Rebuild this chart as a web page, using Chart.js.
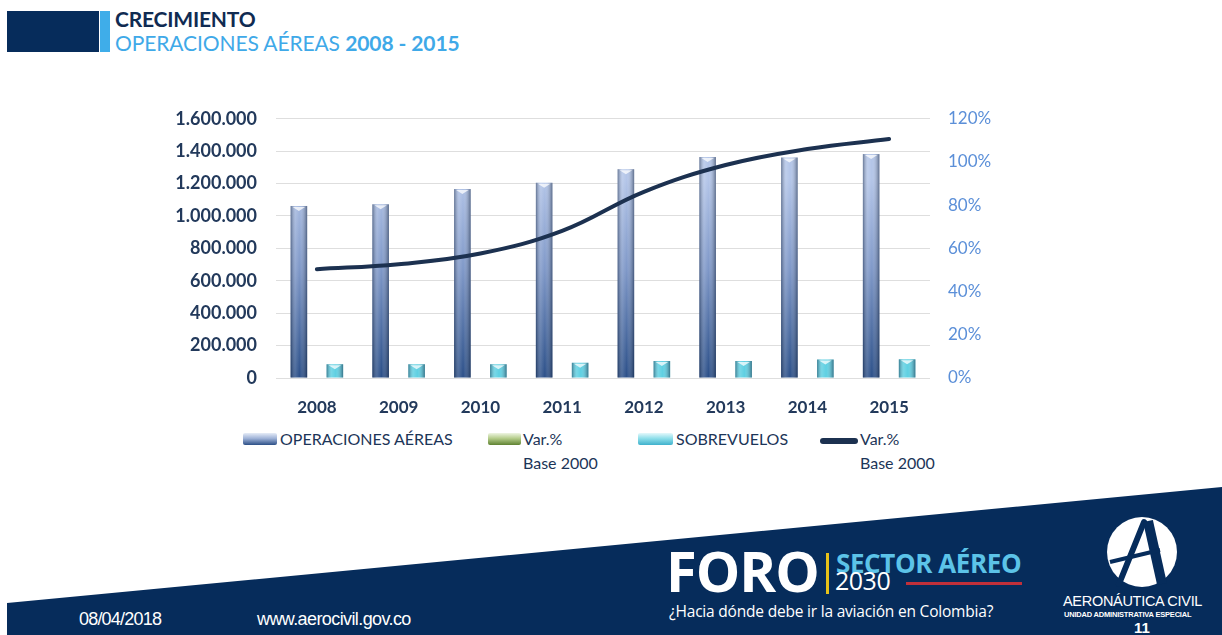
<!DOCTYPE html>
<html>
<head>
<meta charset="utf-8">
<script src="https://cdn.jsdelivr.net/npm/chart.js@4.4.1/dist/chart.umd.min.js"></script>
<style>
  body { margin: 0; width: 1222px; height: 635px; background: #fff; position: relative; overflow: hidden; font-family: Lato, "Open Sans", sans-serif; }
  .abs { position: absolute; }
  #head1 { left: 115px; top: 6px; font: bold 21px Lato; color: #102b52; letter-spacing: -0.2px; }
  #head2 { left: 115px; top: 30px; font: 21px Lato; color: #3fa9e8; letter-spacing: -0.1px; }
  #head2 b { font-weight: bold; }
  #wrap { left: 150px; top: 89px; width: 880px; height: 337px; }
  .leg { font: 16px Lato; color: #1c3558; line-height: 24px; white-space: nowrap; }
  .box { position: absolute; height: 12px; border-radius: 2px; }
  .footer { font-family: "Liberation Sans", Arial, sans-serif; color: #fff; }
</style>
</head>
<body>
<svg class="abs" style="left:0;top:0" width="1222" height="635">
  <rect x="7" y="11" width="92" height="41" fill="#062c5b"/>
  <rect x="100" y="11" width="10" height="41" fill="#3fade9"/>
  <polygon points="7,603 1222,487 1222,635 7,635" fill="#062c5b"/>
  <rect x="826" y="553" width="3" height="41" fill="#e7c21a"/>
  <rect x="906" y="582" width="116" height="3" fill="#c0303a"/>
  <circle cx="1142" cy="552" r="35" fill="#fff"/>
  <line x1="1144" y1="522" x2="1119" y2="584" stroke="#062c5b" stroke-width="6" stroke-linecap="round"/>
  <line x1="1148" y1="521" x2="1162" y2="584" stroke="#062c5b" stroke-width="10" stroke-linecap="butt"/>
  <line x1="1110" y1="562" x2="1160" y2="550" stroke="#062c5b" stroke-width="4"/>
</svg>

<div id="head1" class="abs">CRECIMIENTO</div>
<div id="head2" class="abs">OPERACIONES AÉREAS <b>2008 - 2015</b></div>

<div id="wrap" class="abs"><canvas id="myChart"></canvas></div>

<!-- leyenda -->
<div class="box" style="left:243px;top:433px;width:34px;background:linear-gradient(#e6ecf7,#9fb3d8 45%,#2c4f86)"></div>
<div class="abs leg" style="left:280px;top:427px">OPERACIONES AÉREAS</div>
<div class="box" style="left:488px;top:433px;width:33px;background:linear-gradient(#eef5e2,#b4cc8a 45%,#5f8232)"></div>
<div class="abs leg" style="left:523px;top:427px">Var.%<br>Base 2000</div>
<div class="box" style="left:638px;top:433px;width:35px;background:linear-gradient(#e4f8fb,#8fdfea 45%,#3fb1cc)"></div>
<div class="abs leg" style="left:676px;top:427px">SOBREVUELOS</div>
<div class="abs" style="left:820px;top:438px;width:38px;height:6px;border-radius:3px;background:#1c3150"></div>
<div class="abs leg" style="left:860px;top:427px">Var.%<br>Base 2000</div>

<!-- pie -->
<div class="abs" style="left:666px;top:532px;font:bold 56px 'Open Sans';color:#fff;letter-spacing:-1px">FORO</div>
<div class="abs" style="left:836px;top:545px;font:bold 26px 'Open Sans';color:#5cc3e8;letter-spacing:-0.4px">SECTOR AÉREO</div>
<div class="abs" style="left:835px;top:563px;font:25px 'Open Sans';color:#fff;letter-spacing:-0.5px">2030</div>
<div class="abs" style="left:669px;top:600px;font:15.5px 'Open Sans';color:#fff;letter-spacing:-0.2px">¿Hacia dónde debe ir la aviación en Colombia?</div>
<div class="abs footer" style="left:1063px;top:593px;font-size:14.5px;letter-spacing:-0.3px">AERONÁUTICA CIVIL</div>
<div class="abs footer" style="left:1064px;top:610px;font-size:7.5px;font-weight:bold;letter-spacing:-0.2px">UNIDAD ADMINISTRATIVA ESPECIAL</div>
<div class="abs footer" style="left:1134px;top:619px;font-size:15px;font-weight:bold">11</div>
<div class="abs footer" style="left:79px;top:609px;font-size:18px;letter-spacing:-0.8px">08/04/2018</div>
<div class="abs footer" style="left:257px;top:609px;font-size:18px;letter-spacing:-0.6px">www.aerocivil.gov.co</div>

<script>
// datos
const years = ['2008', '2009', '2010', '2011', '2012', '2013', '2014', '2015'];
const operaciones = [1062000, 1072000, 1166000, 1205000, 1289000, 1364000, 1361000, 1382000];
const varBarras = [0.50, 0.53, 0.58, 0.68, 0.86, 0.98, 1.06, 1.10];  // serie verde, invisible en eje izq.
const sobrevuelos = [85000, 85000, 85000, 94000, 105000, 105000, 114000, 115000];
const varBase2000 = [50.4, 52.7, 57.6, 68.1, 86.2, 98.6, 106.0, 110.6];
const leftTicks = [0, 200000, 400000, 600000, 800000, 1000000, 1200000, 1400000, 1600000];

function fmtMiles(v) {
    return v.toString().replace(/\B(?=(\d{3})+(?!\d))/g, '.');
}

// degradado vertical según el área del gráfico
function vGrad(top, mid, bottom) {
    return function (ctx) {
        const area = ctx.chart.chartArea;
        if (!area) return bottom;
        const g = ctx.chart.ctx.createLinearGradient(0, area.top + 60, 0, area.bottom);
        g.addColorStop(0, top);
        g.addColorStop(0.45, mid);
        g.addColorStop(1, bottom);
        return g;
    };
}

// sombreado de cilindro sobre cada barra
const cylinder = {
    id: 'cylinder',
    afterDatasetDraw(chart, args) {
        if (args.meta.type !== 'bar') return;
        const c = chart.ctx;
        args.meta.data.forEach(el => {
            const p = el.getProps(['x', 'y', 'base', 'width'], true);
            const h = p.base - p.y;
            if (h < 3) return;
            const l = p.x - p.width / 2;
            const g = c.createLinearGradient(l, 0, l + p.width, 0);
            g.addColorStop(0, 'rgba(10,25,50,0.45)');
            g.addColorStop(0.3, 'rgba(255,255,255,0.15)');
            g.addColorStop(0.55, 'rgba(255,255,255,0)');
            g.addColorStop(1, 'rgba(10,25,50,0.5)');
            c.save();
            c.fillStyle = g;
            c.fillRect(l, p.y, p.width, h);
            c.fillStyle = 'rgba(255,255,255,0.75)';
            c.beginPath();
            c.moveTo(l + 2, p.y + 1);
            c.lineTo(l + p.width - 2, p.y + 1);
            c.lineTo(p.x, p.y + 5);
            c.closePath();
            c.fill();
            c.restore();
        });
    }
};

const config = {
    type: 'bar',
    data: {
        labels: years,
        datasets: [
            {
                label: 'OPERACIONES AÉREAS',
                data: operaciones,
                backgroundColor: vGrad('#b3c5e8', '#7f98c8', '#2b4f88'),
                yAxisID: 'y',
                order: 1
            },
            {
                label: 'Var.% Base 2000',
                data: varBarras,
                backgroundColor: 'rgba(143,177,90,0)',
                yAxisID: 'y',
                order: 1
            },
            {
                label: 'SOBREVUELOS',
                data: sobrevuelos,
                backgroundColor: '#5fd0e2',
                yAxisID: 'y',
                order: 1
            },
            {
                type: 'line',
                label: 'Var.% Base 2000',
                data: varBase2000,
                yAxisID: 'y1',
                borderColor: '#1c3150',
                borderWidth: 4,
                borderCapStyle: 'round',
                tension: 0.4,
                pointRadius: 0,
                order: 0
            }
        ]
    },
    options: {
        responsive: true,
        maintainAspectRatio: false,
        animation: false,
        categoryPercentage: 0.66,
        barPercentage: 0.92,
        layout: { padding: { top: 17, left: 0, right: 0, bottom: 0 } },
        plugins: { legend: { display: false }, tooltip: { enabled: false } },
        scales: {
            x: {
                grid: { display: false },
                border: { display: false },
                ticks: { color: '#22395b', font: { family: 'Lato', size: 17, weight: 'bold' }, padding: 11 },
                afterFit(s) { s.height = 48; }
            },
            y: {
                min: 0,
                max: 1600000,
                afterBuildTicks(s) { s.ticks = leftTicks.map(v => ({ value: v })); },
                grid: { color: '#dedede', drawTicks: false },
                border: { display: false },
                ticks: {
                    color: '#22395b',
                    font: { family: 'Lato', size: 18, weight: 'bold' },
                    padding: 19,
                    callback: v => fmtMiles(v)
                },
                afterFit(s) { s.width = 126; }
            },
            y1: {
                position: 'right',
                min: 0,
                max: 120,
                grid: { display: false, drawTicks: false },
                border: { display: false },
                ticks: {
                    stepSize: 20,
                    color: '#5b8fd8',
                    font: { family: 'Lato', size: 17 },
                    padding: 18,
                    callback: v => v + '%'
                },
                afterFit(s) { s.width = 100; }
            }
        }
    },
    plugins: [cylinder]
};

new Chart(document.querySelector('#myChart').getContext('2d'), config);
</script>
</body>
</html>
